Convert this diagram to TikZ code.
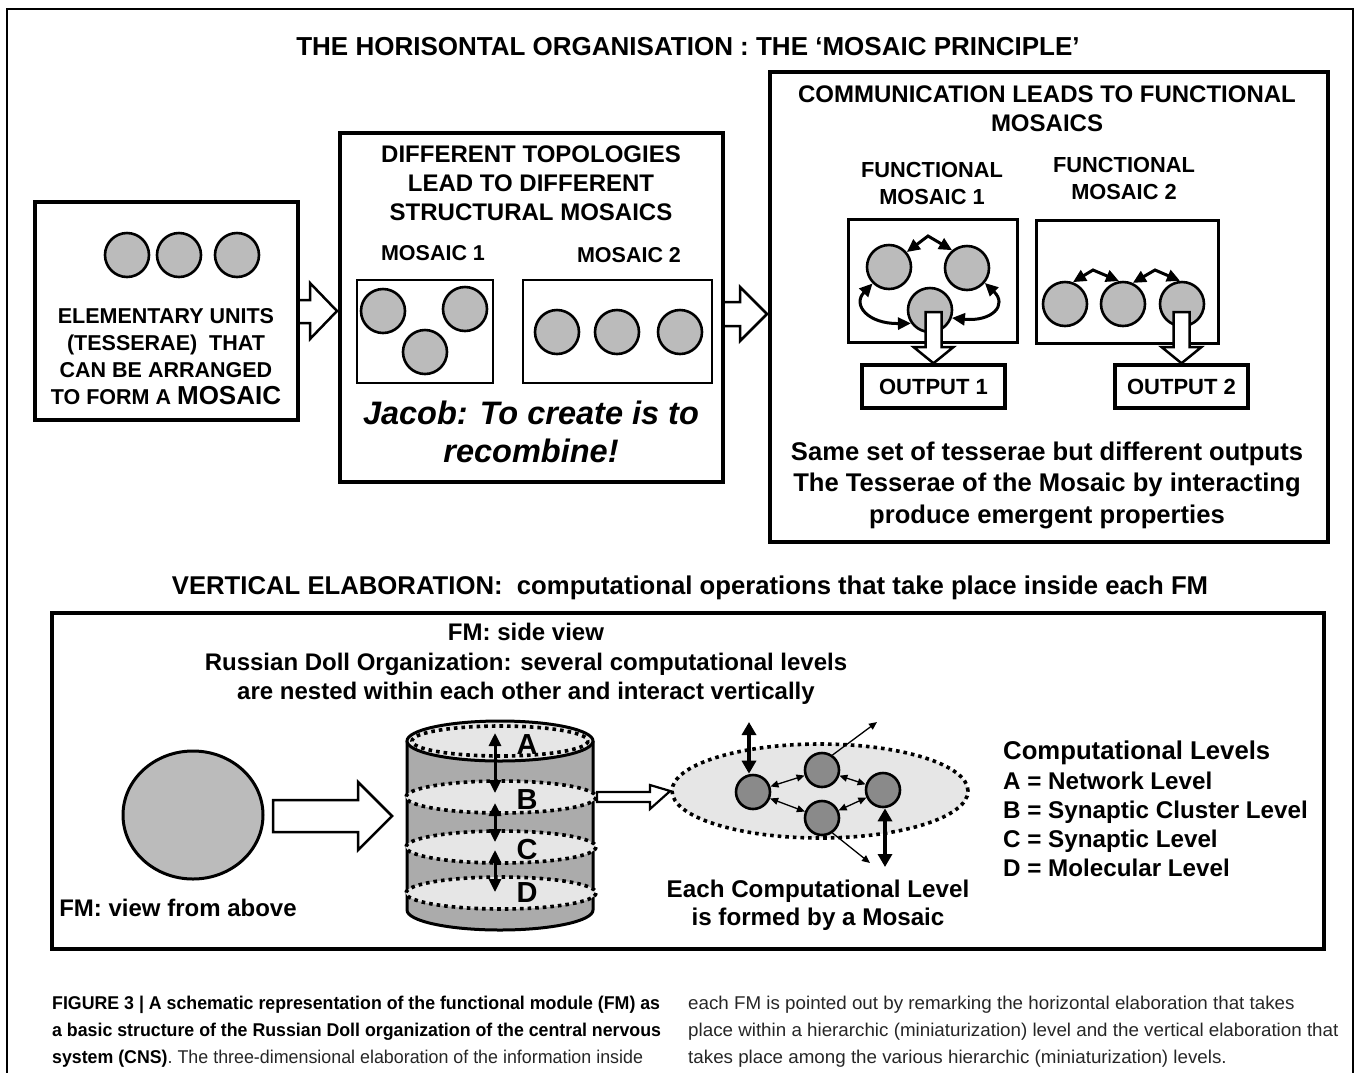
\documentclass[tikz,border=0pt]{standalone}
\usepackage{fontspec}
\setmainfont{Liberation Sans}
\newfontfamily\capfontb[FakeStretch=0.96]{Liberation Sans Bold}
\newfontfamily\capfontr[FakeStretch=1.015]{Liberation Sans}
\newfontfamily\capfontl[FakeStretch=0.965]{Liberation Sans}
\usetikzlibrary{arrows.meta,shapes.geometric}
\definecolor{tgray}{HTML}{BBBBBB}
\definecolor{cylgray}{HTML}{ABABAB}
\definecolor{lgray}{HTML}{E6E6E6}
\definecolor{dgray}{HTML}{8A8A8A}
\definecolor{captxt}{HTML}{262626}
\begin{document}
\begin{tikzpicture}[x=1pt,y=-1pt,
  box/.style={draw, line width=4pt, inner sep=0pt},
  sbox/.style={draw, line width=2.6pt, inner sep=0pt},
  tess/.style={circle, draw, line width=2.6pt, fill=tgray, minimum size=44pt, inner sep=0pt},
  dtess/.style={circle, draw, line width=2.6pt, fill=dgray, minimum size=34pt, inner sep=0pt},
  lab/.style={font=\bfseries\fontsize{21.5}{27}\selectfont, align=center, inner sep=0pt},
  tlab/.style={font=\bfseries\fontsize{24}{29}\selectfont, align=center, inner sep=0pt},
  harrow/.style={draw, fill=white, line width=2.5pt, line join=miter},
  dbl/.style={line width=3pt, {Triangle[length=13pt,width=12pt]}-{Triangle[length=13pt,width=12pt]}},
  tdbl/.style={line width=1.3pt, {Triangle[length=8pt,width=7pt]}-{Triangle[length=8pt,width=7pt]}},
  tsgl/.style={line width=1.3pt, -{Triangle[length=8pt,width=7pt]}},
  kdbl/.style={line width=4pt, {Triangle[length=13pt,width=14pt]}-{Triangle[length=13pt,width=14pt]}},
  dots/.style={line width=3.6pt, dash pattern=on 3.6pt off 4pt},
]
\path[use as bounding box] (0,0) rectangle (1355,1072);
% outer frame
\draw[line width=1.2pt] (7,1090) -- (7,9) -- (1353,9) -- (1353,1090);

% title 1
\node[font=\bfseries\fontsize{26}{28}\selectfont, inner sep=0pt] (t1) at (688,47) {THE HORISONTAL ORGANISATION : THE ‘MOSAIC PRINCIPLE’};

% box 1
\node[box, minimum width=263pt, minimum height=218pt] (b1) at (166.5,311) {};
\node[tess] (e1) at (127,255) {};
\node[tess] (e2) at (179,255) {};
\node[tess] (e3) at (237,255) {};
\node[lab] (b1t) at (166,357) {ELEMENTARY UNITS\\(TESSERAE)\ \ THAT\\CAN BE ARRANGED\\TO FORM A {\fontsize{26}{27}\selectfont MOSAIC}};

% arrow 1
\draw[harrow] (b1.east |- 0,300) -- (310,300) -- (310,283) -- (337,311) -- (310,339) -- (310,323) -- (b1.east |- 0,323);

% box 2
\node[box, minimum width=383pt, minimum height=349pt] (b2) at (531.5,307.5) {};
\node[tlab] (b2t) at (531,183) {DIFFERENT TOPOLOGIES\\LEAD TO DIFFERENT\\STRUCTURAL MOSAICS};
\node[lab] (m1l) at (433,253) {MOSAIC 1};
\node[lab] (m2l) at (629,255) {MOSAIC 2};
\node[sbox, minimum width=136pt, minimum height=103pt] (mb1) at (425,331.5) {};
\node[sbox, minimum width=189pt, minimum height=103pt] (mb2) at (617.5,331.5) {};
\node[tess] (s1) at (383,311) {};
\node[tess] (s2) at (465,309) {};
\node[tess] (s3) at (425,352) {};
\node[tess] (s4) at (557,332) {};
\node[tess] (s5) at (617,332) {};
\node[tess] (s6) at (680,332) {};
\node[font=\bfseries\itshape\fontsize{32.5}{38}\selectfont, align=center, inner sep=0pt] (jac) at (531,432) {Jacob: To create is to\\recombine!};

% arrow 2
\draw[harrow] (b2.east |- 0,302) -- (740,302) -- (740,287) -- (767,314) -- (740,341) -- (740,326) -- (b2.east |- 0,326);

% box 3
\node[box, minimum width=558pt, minimum height=470pt] (b3) at (1049,307) {};
\node[tlab] (b3t) at (1047,109) {COMMUNICATION LEADS TO FUNCTIONAL\\MOSAICS};
\node[lab, font=\bfseries\fontsize{21.8}{27}\selectfont] (f1l) at (932,183.5) {FUNCTIONAL\\MOSAIC 1};
\node[lab, font=\bfseries\fontsize{21.8}{27}\selectfont] (f2l) at (1124,178.5) {FUNCTIONAL\\MOSAIC 2};
\node[draw, line width=3pt, minimum width=169pt, minimum height=123pt] (fb1) at (932.5,280.5) {};
\node[draw, line width=3pt, minimum width=182pt, minimum height=123pt] (fb2) at (1127,281.5) {};
\node[tess] (f1a) at (889,267) {};
\node[tess] (f1b) at (967,268) {};
\node[tess] (f1c) at (930,310) {};
\node[tess] (f2a) at (1065,304) {};
\node[tess] (f2b) at (1123,304) {};
\node[tess] (f2c) at (1182,304) {};
\draw[dbl] (f1a.40) -- (928,236) -- (f1b.130);
\draw[dbl] (f1a.225) .. controls (852,305) and (868,324) .. (f1c.215);
\draw[dbl] (f1b.-40) .. controls (1008,305) and (992,322) .. (f1c.-20);
\draw[dbl] (f2a.70) -- (1093,270) -- (f2b.100);
\draw[dbl] (f2b.65) -- (1155,270) -- (f2c.95);
\node[draw, line width=3.5pt, minimum width=143pt, minimum height=43pt, font=\bfseries\fontsize{22}{24}\selectfont] (o1) at (933.5,386.5) {OUTPUT 1};
\node[draw, line width=3.5pt, minimum width=133pt, minimum height=43pt, font=\bfseries\fontsize{22}{24}\selectfont] (o2) at (1181.5,386.5) {OUTPUT 2};
\draw[harrow] (925.5,312) -- (925.5,347) -- (913.5,347) -- (o1.north) -- (953.5,347) -- (941.5,347) -- (941.5,312) -- cycle;
\draw[harrow] (1173.5,312) -- (1173.5,347) -- (1161.5,347) -- (o2.north) -- (1201.5,347) -- (1189.5,347) -- (1189.5,312) -- cycle;
\node[font=\bfseries\fontsize{25.6}{31.5}\selectfont, align=center, inner sep=0pt] (b3b) at (1047,485) {Same set of tesserae but different outputs\\The Tesserae of the Mosaic by interacting\\produce emergent properties};

% title 2
\node[font=\bfseries\fontsize{25.7}{28}\selectfont, inner sep=0pt] (t2) at (690,588) {VERTICAL ELABORATION:\ \ computational operations that take place inside each FM};

% bottom box
\node[box, minimum width=1272pt, minimum height=336pt] (b4) at (688,781) {};
\node[font=\bfseries\fontsize{24}{29.5}\selectfont, align=center, inner sep=0pt] (b4t) at (526,664) {FM: side view\\Russian Doll Organization: several computational levels\\are nested within each other and interact vertically};

\node[ellipse, draw, line width=3pt, fill=tgray, minimum width=140pt, minimum height=128pt, inner sep=0pt] (fmtop) at (193,815) {};
\node[font=\bfseries\fontsize{24}{28}\selectfont, inner sep=0pt] (fmtopl) at (178,908) {FM: view from above};
\draw[harrow] (273,800) -- (358,800) -- (358,782) -- (392,816) -- (358,850) -- (358,832) -- (273,832) -- cycle;

% cylinder
\coordinate (cylTL) at (407,741);
\coordinate (cylTR) at (593,741);
\fill[cylgray] (407,741) rectangle (593,910);
\fill[cylgray] (500,910) ellipse[x radius=93, y radius=20];
\draw[line width=3pt] (cylTL) -- (407,910) arc[start angle=180, end angle=0, x radius=93, y radius=20] -- (cylTR);
\foreach \yy/\nm in {797/B, 847/C, 893/D}{
  \fill[lgray] (501,\yy) ellipse[x radius=95, y radius=16];
  \draw[dots] (501,\yy) ellipse[x radius=95, y radius=16];
}
\filldraw[fill=lgray, line width=3pt] (500,741) ellipse[x radius=93, y radius=20];
\draw[dots] (500,741) ellipse[x radius=88, y radius=15];
\foreach \yy/\nm in {745/A, 800/B, 850/C, 893/D}{
  \node[font=\bfseries\fontsize{29}{30}\selectfont, inner sep=0pt] (lev\nm) at (527,\yy) {\nm};
}
\coordinate (ab1) at (495,733); \coordinate (ab2) at (495,793);
\coordinate (bc1) at (495,803); \coordinate (bc2) at (495,842);
\coordinate (cd1) at (495,850); \coordinate (cd2) at (495,892);
\draw[dbl] (ab1) -- (ab2);
\draw[dbl] (bc1) -- (bc2);
\draw[dbl] (cd1) -- (cd2);

% mosaic ellipse
\node[ellipse, fill=lgray, draw, dots, minimum width=296pt, minimum height=94pt, inner sep=0pt] (mell) at (820,791) {};
\draw[harrow, line width=2.2pt] (597,792) -- (650,792) -- (650,785) -- (mell.west) -- (650,809) -- (650,802) -- (597,802) -- cycle;
\node[dtess] (n1) at (753,792) {};
\node[dtess] (n2) at (822,770) {};
\node[dtess] (n3) at (822,818) {};
\node[dtess] (n4) at (883,790) {};
\draw[tdbl] (n1) -- (n2);
\draw[tdbl] (n1) -- (n3);
\draw[tdbl] (n2) -- (n4);
\draw[tdbl] (n3) -- (n4);
\coordinate (n1up) at (749,722);
\coordinate (n4dn) at (885,867);
\coordinate (n2out) at (877,722);
\coordinate (n3out) at (870,863);
\draw[kdbl] (n1up) -- (n1up |- n1.north);
\draw[kdbl] (n4dn |- n4.south) -- (n4dn);
\draw[tsgl] (n2.55) -- (n2out);
\draw[tsgl] (n3.-55) -- (n3out);
\node[font=\bfseries\fontsize{24.2}{28}\selectfont, align=center, inner sep=0pt] (mellt) at (818,905) {Each Computational Level\\is formed by a Mosaic};

\node[font=\bfseries\fontsize{24.2}{29.2}\selectfont, align=left, anchor=west, inner sep=0pt] (levs) at (1003,809) {{\fontsize{25.7}{29.2}\selectfont Computational Levels}\\A = Network Level\\B = Synaptic Cluster Level\\C = Synaptic Level\\D = Molecular Level};

% caption
\node[font=\capfontl\fontsize{18.5}{27}\selectfont, align=left, anchor=north west, inner sep=0pt, text=captxt] (capl) at (52,996) {{\capfontb\color{black}FIGURE 3 | A schematic representation of the functional module (FM) as}\\{\capfontb\color{black}a basic structure of the Russian Doll organization of the central nervous}\\{\capfontb\color{black}system (CNS)}. The three-dimensional elaboration of the information inside};
\node[font=\capfontr\fontsize{18.5}{27}\selectfont, align=left, anchor=north west, inner sep=0pt, text=captxt] (capr) at (688,996) {each FM is pointed out by remarking the horizontal elaboration that takes\\place within a hierarchic (miniaturization) level and the vertical elaboration that\\takes place among the various hierarchic (miniaturization) levels.};
\end{tikzpicture}
\end{document}
